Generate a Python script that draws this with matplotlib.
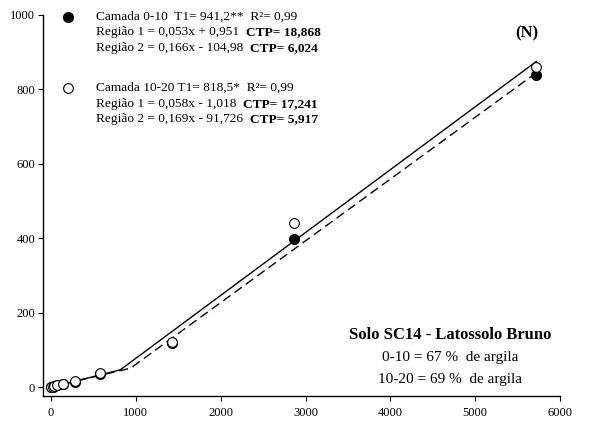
import matplotlib.pyplot as plt
from matplotlib.lines import Line2D
import numpy as np

# doses aplicadas e quantidades adsorvidas
dose = [0, 17.9, 35.75, 71.5, 143, 286, 572, 1430, 2860, 5720]
camada_0_10 = [0.5, 1.5, 3, 5, 8, 14, 35, 118, 397, 840]
camada_10_20 = [0.5, 1.5, 3, 5, 8, 15, 37, 121, 440, 861]

# modelo de dois segmentos (T1 = ponto de quebra)
t1_0_10 = 941.2
reg1_0_10 = (0.053, 0.951)
reg2_0_10 = (0.166, -104.98)
t1_10_20 = 818.5
reg1_10_20 = (0.058, -1.018)
reg2_10_20 = (0.169, -91.726)

xticks = [0, 1000, 2000, 3000, 4000, 5000, 6000]
yticks = [0, 200, 400, 600, 800, 1000]

plt.rcParams['font.family'] = ['Liberation Serif', 'DejaVu Serif']

W, H = 590, 421


def segmentos(t1, r1, r2, xmax):
    xa = np.array([0, t1])
    xb = np.array([t1, xmax])
    x = np.concatenate([xa, xb])
    y = np.concatenate([r1[0] * xa + r1[1], r2[0] * xb + r2[1]])
    return x, y


fig = plt.figure(figsize=(5.9, 4.21), dpi=100)
ax = fig.add_axes([0.0729, 0.0594, 0.8763, 0.905])

x1, y1 = segmentos(t1_0_10, reg1_0_10, reg2_0_10, max(dose))
x2, y2 = segmentos(t1_10_20, reg1_10_20, reg2_10_20, max(dose))
ax.plot(x1, y1, color='black', lw=1.0, dashes=(6.5, 3.6), zorder=2)
ax.plot(x2, y2, color='black', lw=1.0, zorder=2)

ax.plot(dose, camada_0_10, 'o', color='black', ms=7, zorder=3)
ax.plot(dose, camada_10_20, 'o', mfc='white', mec='black', mew=0.8, ms=7, zorder=4)

ax.set_xlim(-94, 6000)
ax.set_ylim(-24, 1000)
ax.set_xticks(xticks)
ax.set_yticks(yticks)
ax.tick_params(direction='out', length=3.6, width=0.8, labelsize=9, pad=2)
ax.tick_params(axis='x', pad=4)
for s in ['top', 'right']:
    ax.spines[s].set_visible(False)
for s in ['left', 'bottom']:
    ax.spines[s].set_linewidth(1.0)


def linha(xp, yp, normal, negrito=None):
    t = fig.text(xp / W, 1 - yp / H, normal, fontsize=9.6, va='center')
    if negrito:
        ax.annotate(negrito, xy=(1, 0.5), xycoords=t, xytext=(5, 0),
                    textcoords='offset points', fontsize=9.6,
                    fontweight='bold', va='center')
    return t


def marcador(xp, yp, **kw):
    fig.add_artist(Line2D([xp / W], [1 - yp / H], marker='o', ms=7,
                          transform=fig.transFigure, **kw))


# legenda com equações
marcador(68, 17, color='black')
linha(96, 17, 'Camada 0-10  T1= 941,2**  R²= 0,99')
linha(96, 32, 'Região 1 = 0,053x + 0,951', 'CTP= 18,868')
linha(96, 48, 'Região 2 = 0,166x - 104,98', 'CTP= 6,024')

marcador(68, 88, mfc='white', mec='black', mew=0.8)
linha(96, 88, 'Camada 10-20 T1= 818,5*  R²= 0,99')
linha(96, 104, 'Região 1 = 0,058x - 1,018', 'CTP= 17,241')
linha(96, 119, 'Região 2 = 0,169x - 91,726', 'CTP= 5,917')

fig.text(527 / W, 1 - 33 / H, '(N)', fontsize=12, fontweight='bold',
         ha='center', va='center')
fig.text(450 / W, 1 - 335 / H, 'Solo SC14 - Latossolo Bruno', fontsize=12,
         fontweight='bold', ha='center', va='center')
fig.text(450 / W, 1 - 357 / H, '0-10 = 67 %  de argila', fontsize=11,
         ha='center', va='center')
fig.text(450 / W, 1 - 379 / H, '10-20 = 69 %  de argila', fontsize=11,
         ha='center', va='center')

fig.savefig('out.png', dpi=100)
